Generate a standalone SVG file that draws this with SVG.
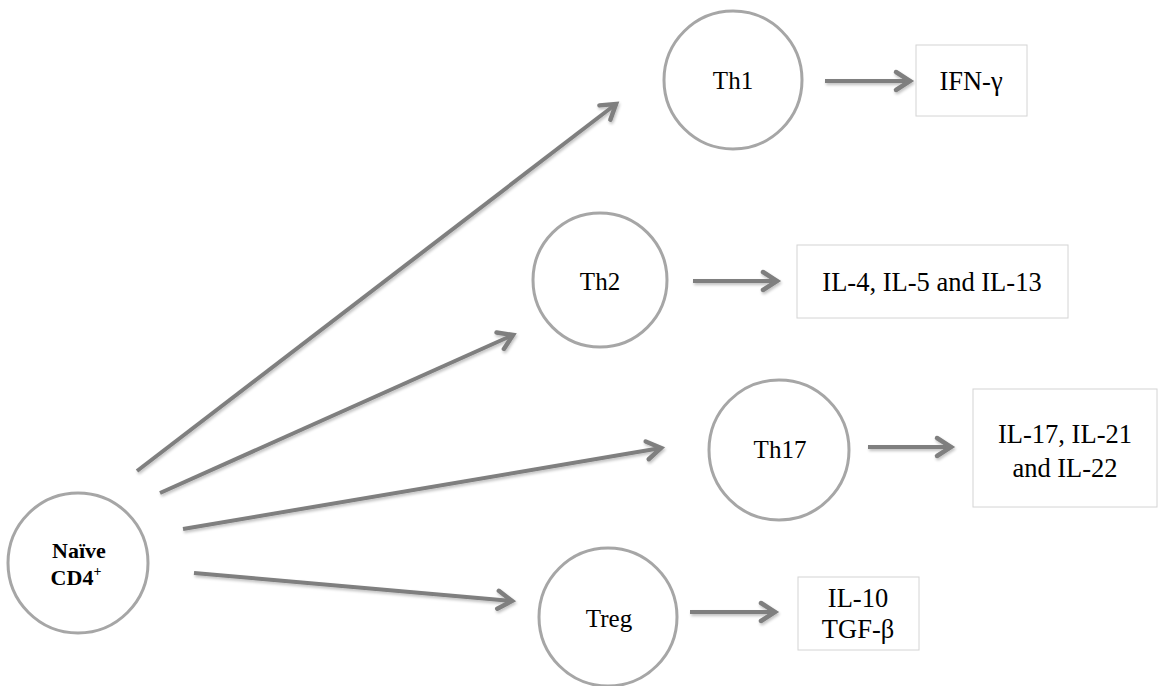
<svg xmlns="http://www.w3.org/2000/svg" width="1158" height="686" viewBox="0 0 1158 686">
<defs>
<marker id="ah" markerUnits="userSpaceOnUse" markerWidth="40" markerHeight="40" viewBox="-20 -20 40 40" refX="0" refY="0" orient="auto">
<path d="M-14,-9 L0,0 L-14,9" fill="none" stroke="#7f7f7f" stroke-width="4.5" stroke-linecap="round" stroke-linejoin="miter"/>
</marker>
<filter id="sh" x="-10%" y="-10%" width="130%" height="130%">
<feGaussianBlur in="SourceAlpha" stdDeviation="1.5"/>
<feOffset dx="1" dy="2" result="b"/>
<feComponentTransfer><feFuncA type="linear" slope="0.25"/></feComponentTransfer>
<feMerge><feMergeNode/><feMergeNode in="SourceGraphic"/></feMerge>
</filter>
</defs>
<style>
.cell{fill:#ffffff;stroke:#a6a6a6;stroke-width:3}
.box{fill:#ffffff;stroke:#d4d4d4;stroke-width:1}
.t{font-family:'Liberation Serif','Times New Roman',serif;font-size:25px;fill:#000;text-anchor:middle}
.k{font-family:'Liberation Serif','Times New Roman',serif;font-size:26.5px;fill:#000;text-anchor:middle}
.b{font-family:'Liberation Serif','Times New Roman',serif;font-size:22px;font-weight:bold;fill:#000;text-anchor:middle}
.c{fill:none;stroke:#7f7f7f;stroke-width:4;marker-end:url(#ah)}
</style>
<rect width="1158" height="686" fill="#ffffff"/>
<g id="connectors" filter="url(#sh)">
<line class="c" x1="137" y1="471" x2="616" y2="104"/>
<line class="c" x1="160" y1="493" x2="513" y2="335"/>
<line class="c" x1="183" y1="529" x2="661" y2="448"/>
<line class="c" x1="194" y1="573" x2="512" y2="601"/>
<line class="c" x1="825" y1="81" x2="910" y2="81"/>
<line class="c" x1="693" y1="281" x2="777" y2="281"/>
<line class="c" x1="868" y1="447" x2="951" y2="447"/>
<line class="c" x1="690" y1="612" x2="775" y2="612"/>
</g>
<g id="naive">
<circle class="cell" cx="78" cy="563" r="70"/>
<text class="b" x="79" y="558">Naïve</text>
<text class="b" x="76" y="585">CD4<tspan font-size="14" dy="-9">+</tspan></text>
</g>
<g id="th1">
<circle class="cell" cx="733" cy="80" r="69"/>
<text class="t" x="733" y="89">Th1</text>
</g>
<g id="th2">
<circle class="cell" cx="600" cy="280" r="67"/>
<text class="t" x="600" y="290">Th2</text>
</g>
<g id="th17">
<circle class="cell" cx="779" cy="450" r="70"/>
<text class="t" x="780" y="458">Th17</text>
</g>
<g id="treg">
<circle class="cell" cx="608" cy="617" r="69"/>
<text class="t" x="609" y="627">Treg</text>
</g>
<g id="ifng">
<rect class="box" x="916" y="45" width="111" height="71"/>
<text class="k" x="971" y="90">IFN-γ</text>
</g>
<g id="il4">
<rect class="box" x="797" y="245" width="271" height="73"/>
<text class="k" x="932" y="291">IL-4, IL-5 and IL-13</text>
</g>
<g id="il17">
<rect class="box" x="973" y="389" width="184" height="118"/>
<text class="k" x="1065" y="443">IL-17, IL-21</text>
<text class="k" x="1065" y="477">and IL-22</text>
</g>
<g id="il10">
<rect class="box" x="798" y="577" width="121" height="73"/>
<text class="k" x="858" y="607">IL-10</text>
<text class="k" x="858" y="638">TGF-β</text>
</g>
</svg>
